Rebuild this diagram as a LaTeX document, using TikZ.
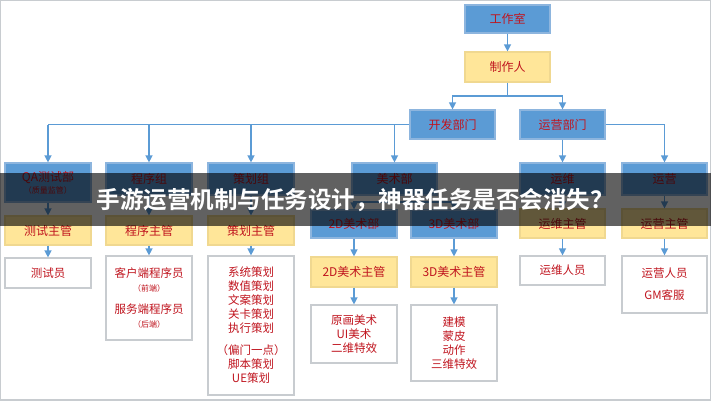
\documentclass[tikz,border=0pt]{standalone}
\usepackage{fontspec}
\usetikzlibrary{arrows.meta}
\newfontfamily\cjk{Noto Sans CJK SC}[BoldFont={Noto Sans CJK SC Bold}]
\definecolor{bbl}{HTML}{5B9BD5}
\definecolor{bbd}{HTML}{8DB5DE}
\definecolor{yel}{HTML}{FFE699}
\definecolor{yeld}{HTML}{F0D890}
\definecolor{txt}{HTML}{C0141E}
\definecolor{gr}{HTML}{C8CCD0}
\tikzset{
 base/.style={inner sep=0pt,font=\cjk\fontsize{12}{14}\selectfont,text=txt,align=center,line width=1.2pt},
 blue/.style={base,fill=bbl,draw=bbd},
 yellow/.style={base,fill=yel,draw=yeld},
 white/.style={base,fill=white,draw=gr,font=\cjk\fontsize{11.5}{14}\selectfont},
 arr/.style={draw=bbl,line width=1.3pt,-{Triangle[width=7pt,length=7pt]}},
 ln/.style={draw=bbl,line width=1.3pt},
}
\newcommand\bx[7]{\node[#6,minimum width=#4pt-#2pt,minimum height=#5pt-#3pt] (#1) at ({(#2+#4)/2},{(#3+#5)/2}) {#7};}
\begin{document}
\begin{tikzpicture}[x=1pt,y=-1pt]
\useasboundingbox (0,0) rectangle (711,400);
\fill[white] (0,0) rectangle (711,400);
\bx{gzs}{465}{5}{550}{33}{blue}{工作室}
\bx{zzr}{465}{52}{550}{82}{yellow}{制作人}
\bx{kf}{410}{110}{495}{139}{blue}{开发部门}
\bx{yy}{520}{110}{605}{139}{blue}{运营部门}
\bx{qa}{5}{163}{91}{202}{blue}{QA测试部\\[-2pt]{\fontsize{8}{9}\selectfont（质量监管）}}
\bx{cx}{106}{163}{192}{195}{blue}{程序组}
\bx{ch}{208}{163}{294}{195}{blue}{策划组}
\bx{ms}{352}{163}{437}{195}{blue}{美术部}
\bx{yw}{520}{163}{605}{195}{blue}{运维}
\bx{yg}{622}{163}{707}{195}{blue}{运营}
\bx{qay}{5}{216}{91}{245}{yellow}{测试主管}
\bx{cxy}{106}{216}{192}{245}{yellow}{程序主管}
\bx{chy}{208}{216}{294}{245}{yellow}{策划主管}
\bx{m2}{311}{210}{397}{238}{blue}{2D美术部}
\bx{m3}{411}{210}{497}{238}{blue}{3D美术部}
\bx{ywy}{520}{209}{605}{238}{yellow}{运维主管}
\bx{ygy}{622}{209}{707}{238}{yellow}{运营主管}
\bx{m2y}{311}{257}{397}{287}{yellow}{2D美术主管}
\bx{m3y}{411}{257}{497}{287}{yellow}{3D美术主管}
\bx{qaw}{5}{258}{91}{288}{white}{测试员}
\bx{cxw}{106}{256}{192}{340}{white}{客户端程序员\\{\fontsize{8}{10}\selectfont（前端）}\\[8pt]服务端程序员\\{\fontsize{8}{10}\selectfont（后端）}}
\bx{chw}{208}{256}{294}{395}{white}{系统策划\\数值策划\\文案策划\\关卡策划\\执行策划\\[8pt]（偏门一点）\\脚本策划\\UE策划}
\bx{m2w}{311}{305}{397}{363}{white}{原画美术\\UI美术\\二维特效}
\bx{m3w}{411}{305}{497}{381}{white}{建模\\蒙皮\\动作\\三维特效}
\bx{yww}{520}{256}{605}{285}{white}{运维人员}
\bx{ygw}{622}{256}{707}{313}{white}{运营人员\\[8pt]GM客服}
% connectors
\draw[arr] (gzs) -- (zzr);
\coordinate (j1) at (zzr.south|-0,96);
\draw[ln] (zzr) -- (j1);
\draw[arr] (j1) -| (kf);
\draw[arr] (j1) -| (yy);
\coordinate (l1) at (qa.north|-kf.west);
\draw[ln] (kf.west) -- (l1);
\foreach \n in {qa,cx,ch,ms}{\draw[arr] (\n.north|-kf.west) -- (\n.north);}
\draw[arr] (yy) -- (yw);
\draw[arr] (yy.east) -| (yg.north);
\foreach \a/\b in {qa/qay,cx/cxy,ch/chy,yw/ywy,yg/ygy,qay/qaw,cxy/cxw,chy/chw,ywy/yww,ygy/ygw,m2/m2y,m3/m3y,m2y/m2w,m3y/m3w}{\draw[arr] (\a) -- (\b);}
\coordinate (j2) at (ms.south|-0,202);
\draw[ln] (ms) -- (j2);
\draw[arr] (j2) -| (m2);
\draw[arr] (j2) -| (m3);
% banner
\fill[black,opacity=0.62] (0,173) rectangle (711,226);
\node[font=\cjk\bfseries\fontsize{23.5}{26}\selectfont,text=white,inner sep=0pt] (title) at (355,200) {手游运营机制与任务设计，神器任务是否会消失？};
\end{tikzpicture}
\end{document}
